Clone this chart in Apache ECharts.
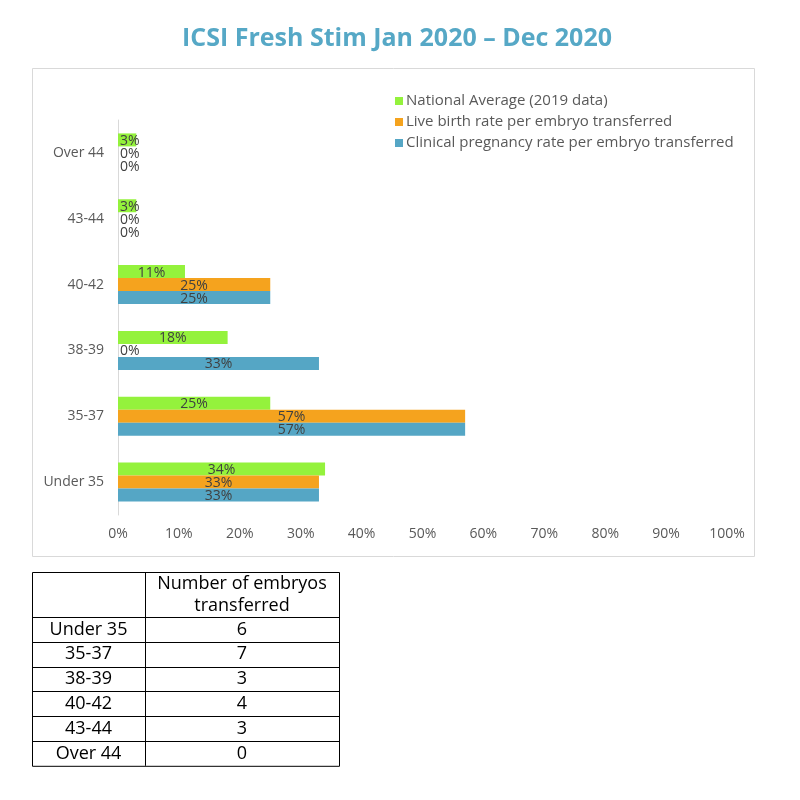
<!DOCTYPE html>
<html>
<head>
<meta charset="UTF-8">
<title>ICSI Fresh Stim Jan 2020 – Dec 2020</title>
<script src="https://cdn.jsdelivr.net/npm/echarts@6/dist/echarts.min.js"></script>
</head>
<body style="margin:0;background:#fff;">
<div id="container" style="width:800px;height:800px;"></div>
<script type="text/javascript">
var ages = ['Under 35', '35-37', '38-39', '40-42', '43-44', 'Over 44'];
var clinicalRate = [33, 57, 33, 25, 0, 0];
var liveBirthRate = [33, 57, 0, 25, 0, 0];
var nationalAvg = [34, 25, 18, 11, 3, 3];
var embryosTransferred = [6, 7, 3, 4, 3, 0];
var tableHeader = ['Number of embryos', 'transferred'];
var xTicks = [0, 10, 20, 30, 40, 50, 60, 70, 80, 90, 100];

var font = 'Open Sans';
var textGray = '#595959';

var myChart = echarts.init(document.getElementById('container'), null, { renderer: 'canvas' });

function barData(values) {
  // small bars get the label pushed to the left edge, like Excel does
  return values.map(function (v) {
    if (v < 8) {
      return { value: v, label: { position: 'insideLeft', distance: 2 } };
    }
    return v;
  });
}

function makeSeries(name, values, color) {
  return {
    name: name,
    type: 'bar',
    data: barData(values),
    barWidth: 13,
    barGap: '0%',
    itemStyle: { color: color },
    label: {
      show: true,
      position: 'inside',
      formatter: '{c}%',
      color: '#404040',
      fontFamily: font,
      fontSize: 14,
      offset: [0, 1]
    }
  };
}

// table graphic (layout constants only)
var tblX = 32, tblW = 307, colX = 145, tblY = 572, headH = 45, rowH = 24.8;
var graphics = [
  {
    type: 'rect',
    shape: { x: 32.5, y: 68.5, width: 722, height: 488 },
    style: { fill: 'none', stroke: '#d9d9d9', lineWidth: 1 },
    silent: true
  }
];
var tblH = headH + rowH * ages.length;
graphics.push({
  type: 'rect',
  shape: { x: tblX + 0.5, y: tblY + 0.5, width: tblW, height: tblH },
  style: { fill: 'none', stroke: '#000', lineWidth: 1 }
});
graphics.push({
  type: 'line',
  shape: { x1: colX + 0.5, y1: tblY, x2: colX + 0.5, y2: tblY + tblH },
  style: { stroke: '#000', lineWidth: 1 }
});
graphics.push({
  type: 'text',
  style: {
    text: tableHeader.join('\n'),
    x: (colX + tblX + tblW) / 2, y: tblY + headH / 2,
    align: 'center', verticalAlign: 'middle',
    font: '18px ' + font, fill: '#000', lineHeight: 22
  }
});
ages.forEach(function (a, i) {
  var y0 = tblY + headH + rowH * i;
  graphics.push({
    type: 'line',
    shape: { x1: tblX, y1: Math.round(y0) + 0.5, x2: tblX + tblW, y2: Math.round(y0) + 0.5 },
    style: { stroke: '#000', lineWidth: 1 }
  });
  graphics.push({
    type: 'text',
    style: {
      text: a, x: (tblX + colX) / 2, y: y0 + rowH / 2,
      align: 'center', verticalAlign: 'middle',
      font: '18px ' + font, fill: '#000'
    }
  });
  graphics.push({
    type: 'text',
    style: {
      text: String(embryosTransferred[i]), x: (colX + tblX + tblW) / 2, y: y0 + rowH / 2,
      align: 'center', verticalAlign: 'middle',
      font: '18px ' + font, fill: '#000'
    }
  });
});

var option = {
  backgroundColor: '#fff',
  animation: false,
  title: {
    text: 'ICSI Fresh Stim Jan 2020 – Dec 2020',
    left: 177,
    top: 21,
    textStyle: { color: '#56A8C6', fontSize: 25, fontWeight: 'bold', fontFamily: font }
  },
  legend: {
    orient: 'vertical',
    left: 390,
    top: 88,
    itemWidth: 8,
    itemHeight: 8,
    itemGap: 5,
    icon: 'rect',
    data: ['National Average (2019 data)', 'Live birth rate per embryo transferred', 'Clinical pregnancy rate per embryo transferred'],
    textStyle: { color: textGray, fontSize: 15, lineHeight: 16, fontFamily: font, padding: [0, 0, 0, -2] }
  },
  grid: { left: 118, right: 73, top: 120, bottom: 285, containLabel: false },
  xAxis: {
    type: 'value',
    min: 0,
    max: 100,
    interval: 10,
    axisLine: { show: false },
    axisTick: { show: false },
    splitLine: { show: false },
    axisLabel: {
      formatter: function (v) { return xTicks.indexOf(v) >= 0 ? v + '%' : ''; },
      color: textGray, fontSize: 14, fontFamily: font, margin: 12
    }
  },
  yAxis: {
    type: 'category',
    data: ages,
    axisLine: { lineStyle: { color: '#d9d9d9' } },
    axisTick: { show: false },
    axisLabel: { color: textGray, fontSize: 14, fontFamily: font, margin: 14 }
  },
  series: [
    makeSeries('National Average (2019 data)', nationalAvg, '#94F23C'),
    makeSeries('Live birth rate per embryo transferred', liveBirthRate, '#F5A31E'),
    makeSeries('Clinical pregnancy rate per embryo transferred', clinicalRate, '#55A6C5')
  ],
  graphic: graphics
};

myChart.setOption(option);
</script>
</body>
</html>
